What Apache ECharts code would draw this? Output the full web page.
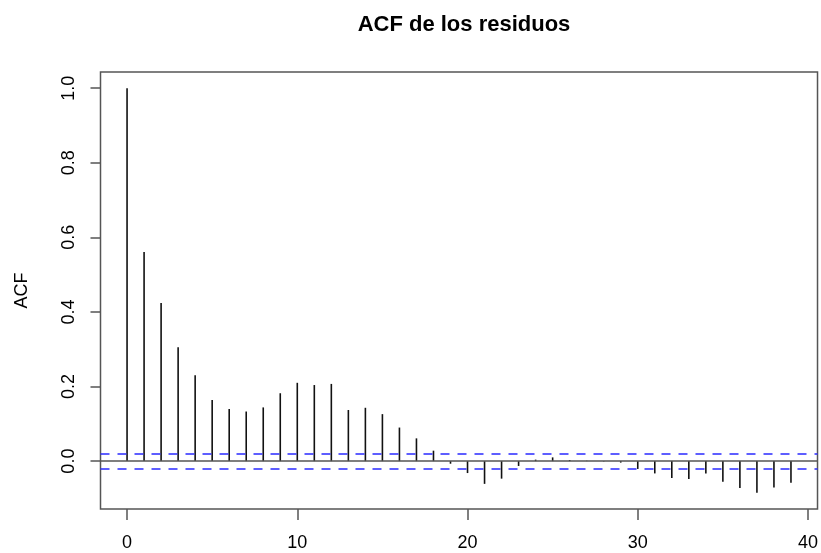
<!DOCTYPE html>
<html>
<head>
<meta charset="utf-8">
<script src="https://cdn.jsdelivr.net/npm/echarts@6/dist/echarts.min.js"></script>
<style>
  html, body { margin: 0; padding: 0; background: #fff; }
  #chart { width: 821px; height: 553px; }
</style>
</head>
<body>
<div id="chart"></div>
<script>
// lags and autocorrelations
const lags = [0, 1, 2, 3, 4, 5, 6, 7, 8, 9, 10, 11, 12, 13, 14, 15, 16, 17, 18, 19,
  20, 21, 22, 23, 24, 25, 26, 27, 28, 29, 30, 31, 32, 33, 34, 35, 36, 37, 38, 39];
const acfValues = [1.0, 0.561, 0.424, 0.305, 0.230, 0.164, 0.140, 0.133, 0.144, 0.182,
  0.210, 0.204, 0.207, 0.137, 0.143, 0.126, 0.090, 0.061, 0.028, -0.007,
  -0.032, -0.061, -0.047, -0.013, 0.004, 0.010, 0.003, 0.001, -0.001, -0.004,
  -0.021, -0.033, -0.045, -0.048, -0.033, -0.055, -0.072, -0.085, -0.071, -0.058];
const confLimit = 0.02;
const xTicks = [0, 10, 20, 30, 40];
const yTicks = [0, 0.2, 0.4, 0.6, 0.8, 1.0];

const font = "'Liberation Sans', Arial, Helvetica, sans-serif";
const boxColor = "#555";

const myChart = echarts.init(document.getElementById("chart"));
const option = {
  animation: false,
  title: {
    text: "ACF de los residuos",
    left: 459,
    textAlign: "center",
    top: 9,
    textStyle: { fontFamily: font, fontSize: 22, fontWeight: "bold", color: "#000" },
  },
  grid: {
    left: 100.5,
    right: 3,
    top: 72,
    bottom: 44,
    show: true,
    borderColor: boxColor,
    borderWidth: 1.5,
  },
  xAxis: {
    type: "value",
    min: -1.56,
    max: 40.56,
    axisLine: { show: false, onZero: false },
    splitLine: { show: false },
    axisTick: {
      show: true,
      length: 11,
      customValues: xTicks,
      lineStyle: { color: boxColor, width: 1.5 },
    },
    axisLabel: {
      customValues: xTicks,
      margin: 25,
      fontFamily: font,
      fontSize: 18,
      color: "#000",
    },
  },
  yAxis: {
    type: "value",
    name: "ACF",
    nameLocation: "middle",
    nameGap: 69,
    nameRotate: 90,
    nameTextStyle: { fontFamily: font, fontSize: 18, color: "#000" },
    min: -0.1284,
    max: 1.0434,
    axisLine: { show: false, onZero: false },
    splitLine: { show: false },
    axisTick: {
      show: true,
      length: 10,
      customValues: yTicks,
      lineStyle: { color: boxColor, width: 1.5 },
    },
    axisLabel: {
      customValues: yTicks,
      rotate: 90,
      margin: 22,
      fontFamily: font,
      fontSize: 18,
      color: "#000",
      formatter: (v) => v.toFixed(1),
    },
  },
  series: [
    {
      type: "bar",
      barWidth: 1.6,
      itemStyle: { color: "#111" },
      data: lags.map((l, i) => [l, acfValues[i]]),
      markLine: {
        silent: true,
        symbol: "none",
        label: { show: false },
        data: [
          { yAxis: 0, lineStyle: { color: boxColor, width: 1.5, type: "solid" } },
          { yAxis: confLimit, lineStyle: { color: "#2a2aff", width: 1.5, type: [9, 8] } },
          { yAxis: -confLimit, lineStyle: { color: "#2a2aff", width: 1.5, type: [9, 8] } },
        ],
      },
    },
  ],
};
myChart.setOption(option);
</script>
</body>
</html>
